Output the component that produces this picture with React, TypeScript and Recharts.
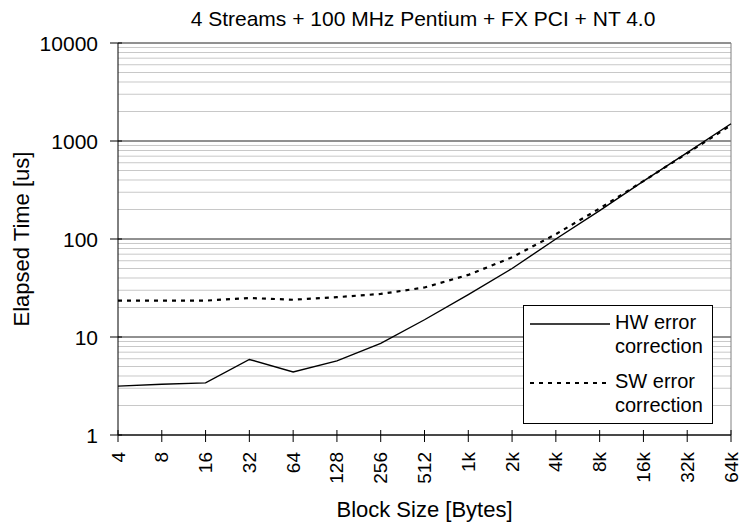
import { CartesianGrid, Label, Legend, Line, LineChart, ReferenceLine, XAxis, YAxis } from "recharts";

const BLOCK_SIZES = ["4", "8", "16", "32", "64", "128", "256", "512", "1k", "2k", "4k", "8k", "16k", "32k", "64k"];
const HW_TIMES = [3.15, 3.3, 3.4, 5.9, 4.4, 5.7, 8.6, 15, 27, 50, 100, 195, 390, 760, 1500];
const SW_TIMES = [23.5, 23.5, 23.5, 25, 24, 25.5, 27.5, 32, 43, 65, 112, 205, 390, 750, 1450];
const Y_TICKS = [1, 10, 100, 1000, 10000];
const MINOR_STEPS = [2, 3, 4, 5, 6, 7, 8, 9];

const TITLE = "4 Streams + 100 MHz Pentium + FX PCI + NT 4.0";

const data = BLOCK_SIZES.map((size, i) => ({ size, hw: HW_TIMES[i], sw: SW_TIMES[i] }));
const minorLines = Y_TICKS.slice(0, -1).flatMap((d) => MINOR_STEPS.map((m) => m * d));

const SERIES = [
  { key: "hw", name: "HW error correction", width: 1.4, dash: undefined },
  { key: "sw", name: "SW error correction", width: 2.2, dash: "4 5" },
];

function SizeTick({ x, y, payload }: any) {
  return (
    <g>
      <line x1={x} x2={x} y1={y - 5} y2={y + 7} stroke="#000" />
      <text
        transform={`translate(${x},${y + 17}) rotate(-90)`}
        textAnchor="end"
        dominantBaseline="central"
        fontSize={19}
        fill="#000"
      >
        {payload.value}
      </text>
    </g>
  );
}

function TimeTick({ x, y, payload }: any) {
  return (
    <g>
      <line x1={x - 8} x2={x + 4} y1={y} y2={y} stroke="#000" />
      <text x={x - 20} y={y} textAnchor="end" dominantBaseline="central" fontSize={21} fill="#000">
        {payload.value}
      </text>
    </g>
  );
}

function LegendBox() {
  return (
    <svg width={190} height={119} style={{ display: "block" }}>
      <rect x={0.5} y={0.5} width={189} height={118} fill="#fff" stroke="#000" />
      {SERIES.map((s, i) => {
        const cy = 19 + i * 59;
        const words = s.name.split(" ");
        return (
          <g key={s.key}>
            <line x1={7} x2={87} y1={cy} y2={cy} stroke="#000" strokeWidth={s.width} strokeDasharray={s.dash} />
            <text x={92} y={cy + 5} fontSize={20} fill="#000">
              {words.slice(0, 2).join(" ")}
            </text>
            <text x={92} y={cy + 29} fontSize={20} fill="#000">
              {words.slice(2).join(" ")}
            </text>
          </g>
        );
      })}
    </svg>
  );
}

export default function App() {
  return (
    <div
      style={{
        position: "absolute",
        left: 0,
        top: 0,
        width: 741,
        height: 522,
        background: "#fff",
        fontFamily: "'Liberation Sans', Arial, sans-serif",
      }}
    >
      <div
        style={{
          position: "absolute",
          left: 123,
          top: 8,
          width: 600,
          textAlign: "center",
          fontSize: 21,
          lineHeight: "21px",
          color: "#000",
        }}
      >
        {TITLE}
      </div>
      <LineChart width={741} height={522} data={data} margin={{ top: 43, right: 10, left: 0, bottom: 0 }}>
        <CartesianGrid horizontal={false} vertical={false} />
        {minorLines.map((v) => (
          <ReferenceLine key={v} y={v} stroke="#c8c8c8" strokeWidth={1} />
        ))}
        {Y_TICKS.map((v) => (
          <ReferenceLine key={"M" + v} y={v} stroke="#222" strokeWidth={1} />
        ))}
        <ReferenceLine x="64k" stroke="#808080" strokeWidth={1} />
        <XAxis
          dataKey="size"
          height={87}
          interval={0}
          tickSize={0}
          tickMargin={0}
          tickLine={false}
          axisLine={{ stroke: "#000" }}
          tick={<SizeTick />}
        >
          <Label value="Block Size [Bytes]" position="insideBottom" offset={5} fontSize={22} fill="#000" />
        </XAxis>
        <YAxis
          scale="log"
          domain={[1, 10000]}
          ticks={Y_TICKS}
          width={118}
          tickSize={0}
          tickMargin={0}
          tickLine={false}
          axisLine={{ stroke: "#000" }}
          tick={<TimeTick />}
          allowDataOverflow
        >
          <Label
            content={({ viewBox }: any) => (
              <text
                transform={`translate(29,${viewBox.y + viewBox.height / 2}) rotate(-90)`}
                textAnchor="middle"
                fontSize={22}
                fill="#000"
              >
                Elapsed Time [us]
              </text>
            )}
          />
        </YAxis>
        {SERIES.map((s) => (
          <Line
            key={s.key}
            type="linear"
            dataKey={s.key}
            name={s.name}
            stroke="#000"
            strokeWidth={s.width}
            strokeDasharray={s.dash}
            dot={false}
            activeDot={false}
            isAnimationActive={false}
          />
        ))}
        <Legend
          layout="horizontal"
          verticalAlign="middle"
          align="center"
          wrapperStyle={{ left: 523, top: 305, width: 190, height: 119 }}
          content={() => <LegendBox />}
        />
      </LineChart>
    </div>
  );
}
